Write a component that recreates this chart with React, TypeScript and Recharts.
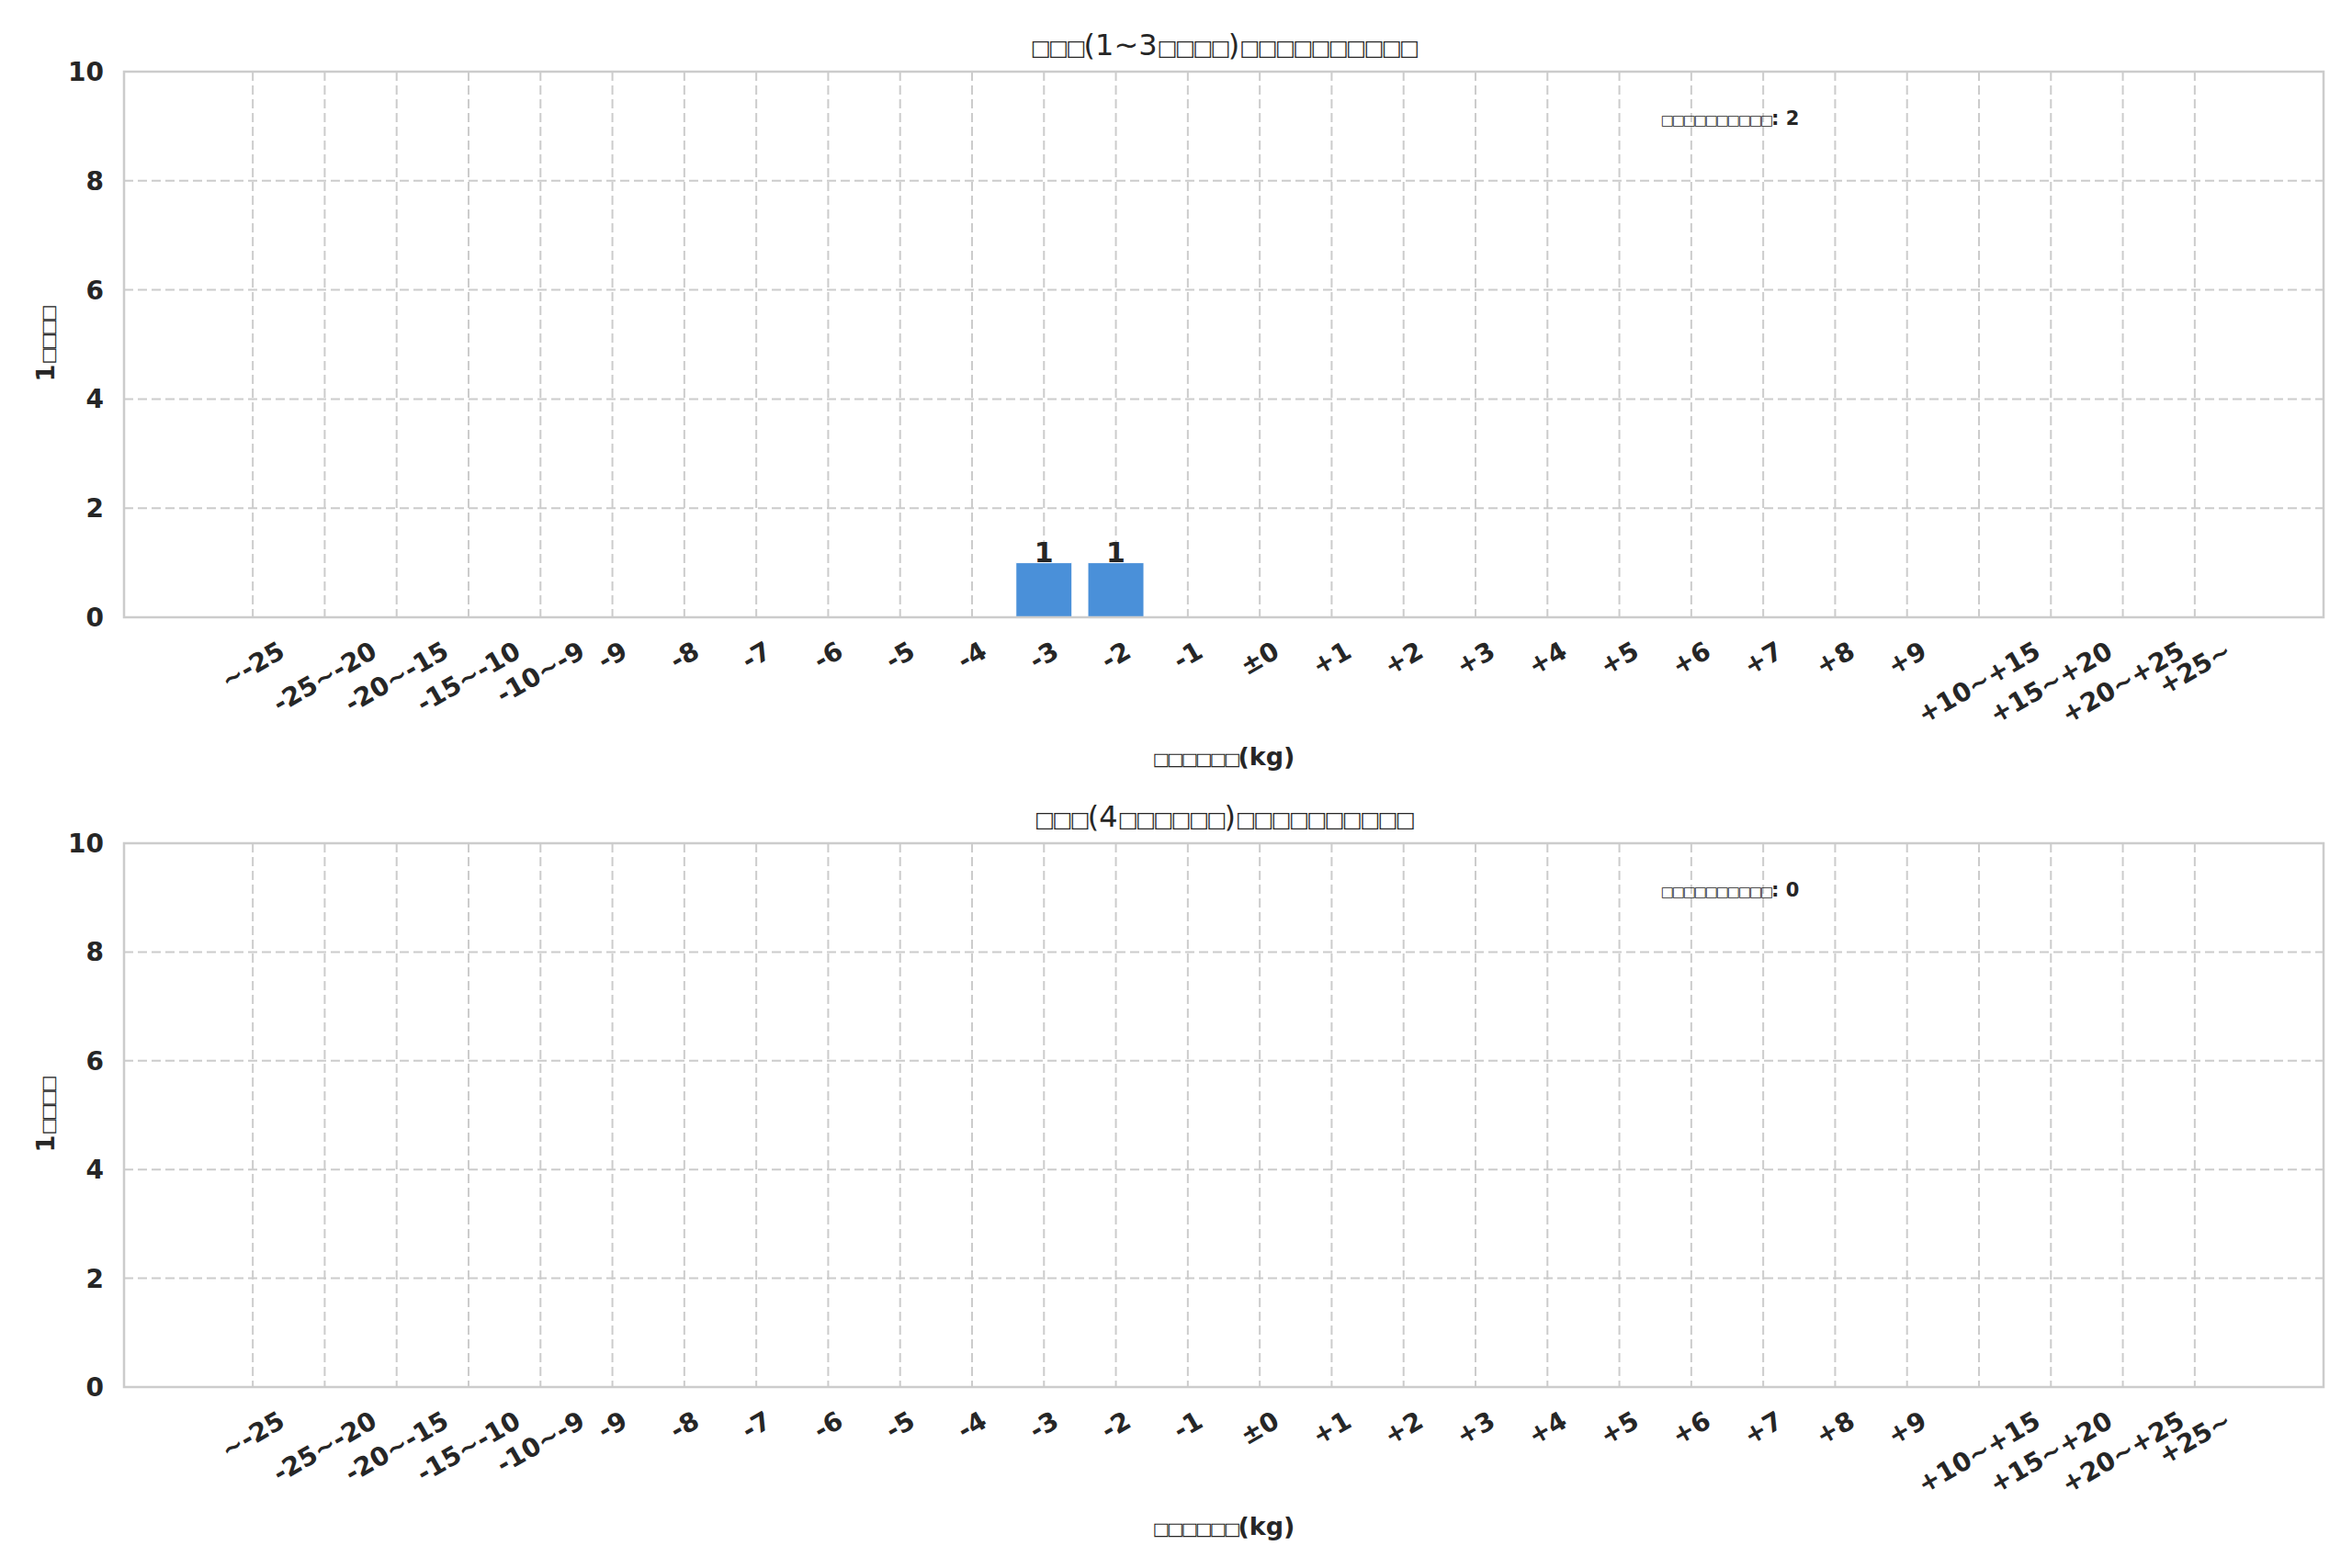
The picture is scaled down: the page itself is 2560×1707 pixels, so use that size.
import React from 'react';
import { BarChart, Bar, XAxis, YAxis, CartesianGrid, LabelList } from 'recharts';

// weight-change bins (kg)
const categories = [
  '~-25', '-25~-20', '-20~-15', '-15~-10', '-10~-9',
  '-9', '-8', '-7', '-6', '-5', '-4', '-3', '-2', '-1',
  '±0',
  '+1', '+2', '+3', '+4', '+5', '+6', '+7', '+8', '+9',
  '+10~+15', '+15~+20', '+20~+25', '+25~',
];

// upper panel: 1~3 months
const recentCounts = [
  0, 0, 0, 0, 0,
  0, 0, 0, 0, 0, 0, 1, 1, 0,
  0,
  0, 0, 0, 0, 0, 0, 0, 0, 0,
  0, 0, 0, 0,
];

// lower panel: 4+ months
const olderCounts = [
  0, 0, 0, 0, 0,
  0, 0, 0, 0, 0, 0, 0, 0, 0,
  0,
  0, 0, 0, 0, 0, 0, 0, 0, 0,
  0, 0, 0, 0,
];

const yTicks = [0, 2, 4, 6, 8, 10];

// the original glyphs came out as empty boxes, kept as boxes here
const recentTitle = '□□□(1~3□□□□)□□□□□□□□□□';
const olderTitle = '□□□(4□□□□□□)□□□□□□□□□□';
const yLabel = '1□□□□';
const xLabel = '□□□□□□(kg)';
const totalLabel = '□□□□□□□□□□';
const recentTotal = 2;
const olderTotal = 0;

const FONT = '"DejaVu Sans", sans-serif';
const INK = '#262626';
const GRID = '#cccccc';
const BAR = '#4a90d9';
const W = 2560;
const PLOT_LEFT = 135;
const PLOT_RIGHT = 2529;
const TICK_FONT = 28;
const BOX = '□';
const BOX_SCALE = 0.72;

const CHAR_W: Record<string, number> = { '-': 0.415, '~': 0.838, '+': 0.838, '±': 0.838 };
function textWidth(s: string, size: number) {
  let w = 0;
  for (const c of s) w += CHAR_W[c] ?? 0.696;
  return w * size;
}

// squeeze the box glyphs to the narrow pitch seen in the picture
function boxRuns(s: string, size: number, pitch: number) {
  const runs: { box: boolean; text: string }[] = [];
  for (const c of s) {
    const box = c === BOX;
    const last = runs[runs.length - 1];
    if (last && last.box === box) last.text += c;
    else runs.push({ box, text: c });
  }
  const spacing = (pitch - 0.94 * BOX_SCALE) * size;
  return runs.map((r, i) =>
    r.box ? (
      <tspan key={i} fontSize={BOX_SCALE * size} style={{ letterSpacing: `${spacing}px` }}>
        {r.text}
      </tspan>
    ) : (
      <tspan key={i}>{r.text}</tspan>
    ),
  );
}

function SlantTick(props: any) {
  const { x, y, payload } = props;
  const label = String(payload.value);
  const w = textWidth(label, TICK_FONT);
  const cy = y + 22 + (w * 0.5 + 24) / 2;
  return (
    <text
      x={x}
      y={cy}
      textAnchor="middle"
      dominantBaseline="central"
      transform={`rotate(-30 ${x} ${cy})`}
      fontSize={TICK_FONT}
      fontWeight="bold"
      fill={INK}
      fontFamily={FONT}
    >
      {label}
    </text>
  );
}

interface PanelProps {
  counts: number[];
  title: string;
  total: number;
  top: number;
  height: number;
  plotTop: number;
  plotHeight: number;
}

function Panel({ counts, title, total, top, height, plotTop, plotHeight }: PanelProps) {
  const data = categories.map((range, i) => ({ range, count: counts[i] }));
  const plotBottom = plotTop + plotHeight;
  const midX = (PLOT_LEFT + PLOT_RIGHT) / 2;
  const midY = plotTop + plotHeight / 2;
  return (
    <div style={{ position: 'absolute', left: 0, top, width: W, height }}>
      <BarChart
        width={W}
        height={height}
        data={data}
        margin={{ top: plotTop, right: W - PLOT_RIGHT, bottom: 0, left: 0 }}
        barCategoryGap="11%"
      >
        <CartesianGrid stroke={GRID} strokeWidth={2} strokeDasharray="10 5" />
        <XAxis
          dataKey="range"
          interval={0}
          height={height - plotBottom}
          axisLine={false}
          tickLine={false}
          tickSize={0}
          tickMargin={0}
          padding={{ left: 101, right: 101 }}
          tick={<SlantTick />}
        />
        <YAxis
          width={PLOT_LEFT}
          domain={[0, 10]}
          ticks={yTicks}
          interval={0}
          axisLine={false}
          tickLine={false}
          tickSize={0}
          tickMargin={22}
          tick={{ fontSize: TICK_FONT, fontWeight: 'bold', fill: INK, fontFamily: FONT }}
        />
        <Bar dataKey="count" fill={BAR} stroke="#ffffff" strokeWidth={1} isAnimationActive={false}>
          <LabelList
            dataKey="count"
            position="top"
            offset={1}
            formatter={(v: any) => (Number(v) > 0 ? v : '')}
            style={{ fontSize: 30, fontWeight: 'bold', fill: INK, fontFamily: FONT }}
          />
        </Bar>
      </BarChart>
      <svg
        width={W}
        height={height}
        style={{ position: 'absolute', left: 0, top: 0, pointerEvents: 'none' }}
        fontFamily={FONT}
      >
        <rect
          x={PLOT_LEFT}
          y={plotTop}
          width={PLOT_RIGHT - PLOT_LEFT}
          height={plotHeight}
          fill="none"
          stroke={GRID}
          strokeWidth={2.5}
        />
        <text x={midX} y={plotTop - 30 + 0.36 * 32} textAnchor="middle" fontSize={32} fill={INK}>
          {boxRuns(title, 32, 0.6)}
        </text>
        <text x={1883} y={plotTop + 50 + 0.36 * 21} textAnchor="middle" fontSize={21} fontWeight="bold" fill={INK}>
          {boxRuns(`${totalLabel}: ${total}`, 21, 0.57)}
        </text>
        <text x={midX} y={plotBottom + 151 + 0.36 * 27} textAnchor="middle" fontSize={27} fontWeight="bold" fill={INK}>
          {boxRuns(xLabel, 27, 0.57)}
        </text>
        <text
          x={49}
          y={midY + 0.36 * 27}
          textAnchor="middle"
          transform={`rotate(-90 49 ${midY})`}
          fontSize={27}
          fontWeight="bold"
          fill={INK}
        >
          {boxRuns(yLabel, 27, 0.57)}
        </text>
      </svg>
    </div>
  );
}

export default function App() {
  return (
    <div style={{ position: 'absolute', left: 0, top: 0, width: W, height: 1707, background: '#ffffff', fontFamily: FONT }}>
      <Panel counts={recentCounts} title={recentTitle} total={recentTotal} top={0} height={853} plotTop={78} plotHeight={594} />
      <Panel counts={olderCounts} title={olderTitle} total={olderTotal} top={853} height={854} plotTop={65} plotHeight={592} />
    </div>
  );
}
